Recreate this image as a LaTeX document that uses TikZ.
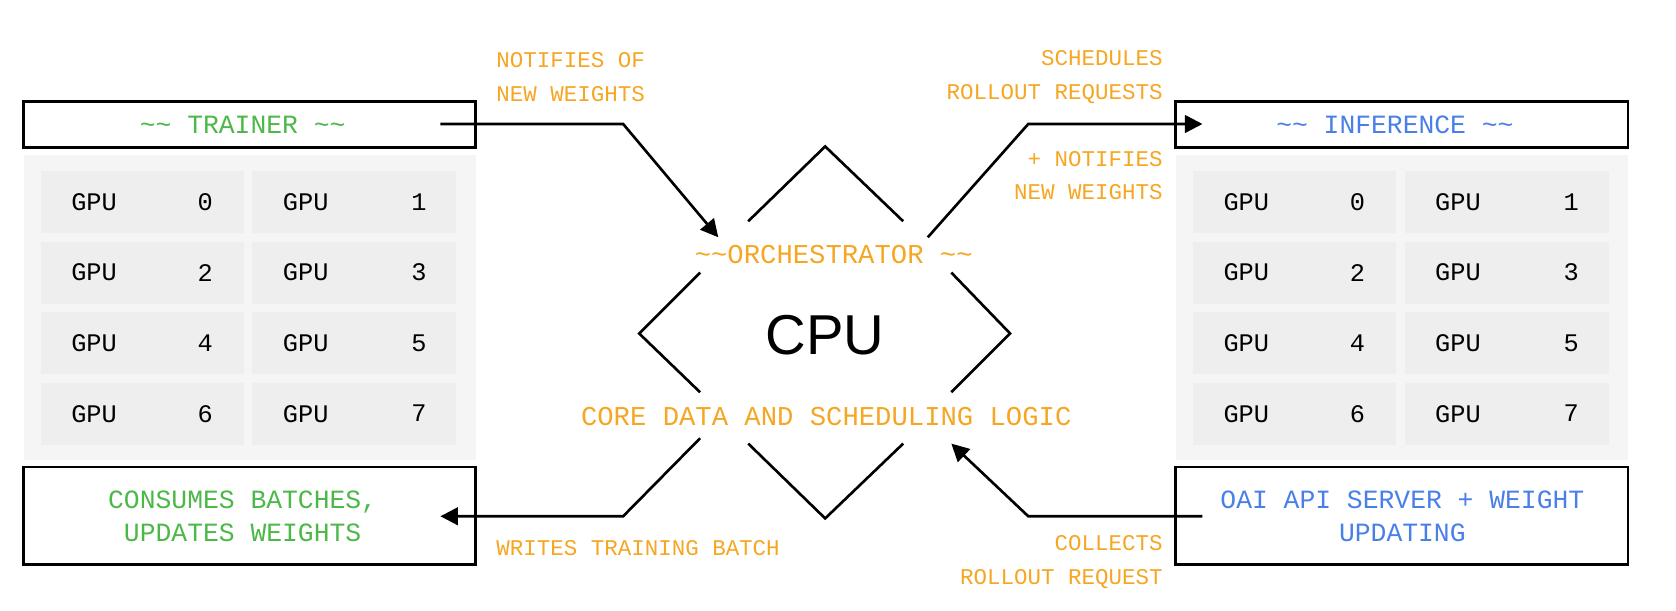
\documentclass[tikz,border=0pt]{standalone}
\usepackage{fontspec}
\setmainfont{Liberation Mono}
\setsansfont{Liberation Sans}
\usetikzlibrary{positioning,arrows.meta,calc}
\definecolor{orch}{HTML}{F5A623}
\definecolor{trn}{HTML}{4CB848}
\definecolor{inf}{HTML}{4A7FE8}
\definecolor{panel}{HTML}{F5F5F5}
\definecolor{cell}{HTML}{EEEEEE}
\tikzset{
  box/.style={draw=black, line width=1.5pt},
  flow/.style={line width=1.5pt, -{Triangle[length=10pt,width=10pt]}},
  edge/.style={line width=1.5pt},
  lbl/.style={text=orch, font=\fontsize{12.8}{16}\selectfont, inner sep=0pt},
  gpu/.style={font=\fontsize{14.4}{17}\selectfont, inner sep=0pt}
}
\begin{document}
\begin{tikzpicture}[x=0.02138cm,y=-0.02138cm]
	% page
	\useasboundingbox (0,0) rectangle (1568,570.7);

	% trainer side
	\draw[box] (22,95) rectangle (445,138);
	\node[text=trn, font=\fontsize{15}{17}\selectfont] (trainer) at (227,117) {\~{}\~{} TRAINER \~{}\~{}};
	\fill[panel] (22,145) rectangle (445,430);
	\draw[box] (22,437) rectangle (445,528);
	\node[text=trn, align=center, font=\fontsize{15}{19}\selectfont] (consume) at (227,483) {CONSUMES BATCHES,\\UPDATES WEIGHTS};

	% inference side
	\draw[box] (1100,95) rectangle (1523,138);
	\node[text=inf, font=\fontsize{15}{17}\selectfont] (inference) at (1305,117) {\~{}\~{} INFERENCE \~{}\~{}};
	\fill[panel] (1100,145) rectangle (1523,430);
	\draw[box] (1100,437) rectangle (1523,528);
	\node[text=inf, align=center, font=\fontsize{15}{19}\selectfont] (server) at (1312,483) {OAI API SERVER + WEIGHT\\UPDATING};

	% gpu cells
	\foreach \ox/\side in {0/t,1078/i}{
	  \foreach \r in {0,...,3}{
	    \foreach \c in {0,1}{
	      \pgfmathtruncatemacro{\n}{2*\r+\c}
	      \fill[cell] (38+\ox+198*\c,160+66*\r) rectangle (228+\ox+199*\c,218+66*\r);
	      \node[gpu] (\side gpu\n) at (88+\ox+198*\c,189+66*\r) {GPU};
	      \node[gpu] (\side num\n) at (192+\ox+200*\c,189+66*\r) {\n};
	    }
	  }
	}

	% orchestrator
	\node[text=orch, font=\fontsize{15.5}{17}\selectfont] (orch) at (780,238) {\~{}\~{}ORCHESTRATOR \~{}\~{}};
	\node[font=\sffamily\fontsize{32}{34}\selectfont] (cpu) at (772,314) {CPU};
	\node[text=orch, font=\fontsize{15.5}{17}\selectfont] (core) at (773,390) {CORE DATA AND SCHEDULING LOGIC};
	\draw[edge] (700,207) -- (772,137) -- (845,207);
	\draw[edge] (655,255) -- (598,312) -- (655,367);
	\draw[edge] (890,255) -- (945,312) -- (890,367);
	\draw[edge] (700,415) -- (772,485) -- (845,415);

	% connectors
	\coordinate (tout) at (412,116);
	\coordinate (tin) at (412,483);
	\coordinate (iin) at (1125,116);
	\coordinate (iout) at (1125,483);
	\coordinate (o1) at (672,222);
	\coordinate (o2) at (868,222);
	\coordinate (o3) at (655,410);
	\coordinate (o4) at (890,415);
	\draw[flow] (tout) -- (583,116) -- (o1);
	\draw[flow] (o2) -- (962,116) -- (iin);
	\draw[flow] (o3) -- (583,483) -- (tin);
	\draw[flow] (iout) -- (962,483) -- (o4);

	% labels
	\node[lbl, align=left, anchor=west] (l1) at (464,72) {NOTIFIES OF\\[3pt]NEW WEIGHTS};
	\node[lbl, align=right, anchor=east] (l2) at (1088,72) {SCHEDULES\\[3pt]ROLLOUT REQUESTS};
	\node[lbl, align=right, anchor=east] (l3) at (1088,164) {+ NOTIFIES\\[3pt]NEW WEIGHTS};
	\node[lbl, anchor=west] (l4) at (464,513) {WRITES TRAINING BATCH};
	\node[lbl, align=right, anchor=east] (l5) at (1088,526) {COLLECTS\\[3pt]ROLLOUT REQUEST};
\end{tikzpicture}
\end{document}
